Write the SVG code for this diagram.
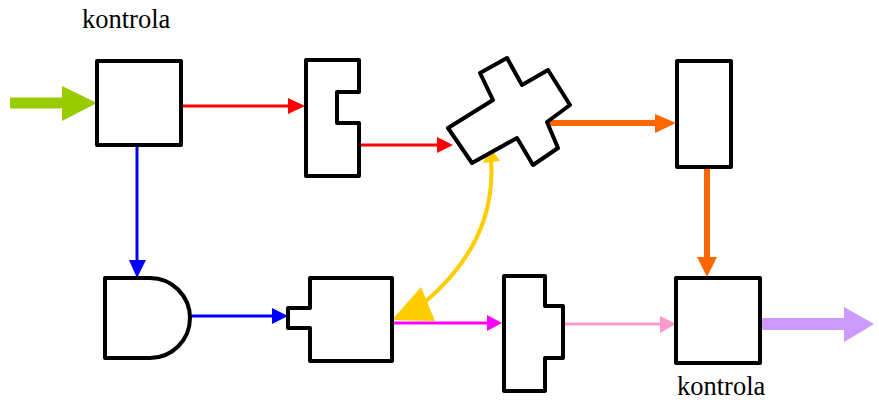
<svg xmlns="http://www.w3.org/2000/svg" width="879" height="404" viewBox="0 0 879 404">
<style>
.n{fill:#fff;stroke:#000;stroke-width:4;stroke-linejoin:round}
.t{font-size:26.5px;fill:#000}
</style>
<rect width="879" height="404" fill="#fff"/>
<g id="connectors">
  <g id="green"><rect x="10" y="97.5" width="54" height="11" fill="#99CC00"/><polygon points="62,86 97,103 62,121" fill="#99CC00"/></g>
  <g id="red1"><line x1="182" y1="106" x2="290" y2="106" stroke="#FF0000" stroke-width="3"/><polygon points="288,98 305,106 288,114" fill="#FF0000"/></g>
  <g id="red2"><line x1="360" y1="145" x2="440" y2="145" stroke="#FF0000" stroke-width="3"/><polygon points="437,137 453,145 437,153" fill="#FF0000"/></g>
  <g id="orange1"><line x1="548" y1="123" x2="657" y2="123" stroke="#FF6600" stroke-width="6"/><polygon points="655,114 676,123 655,133" fill="#FF6600"/></g>
  <g id="orange2"><line x1="707" y1="167" x2="707" y2="259" stroke="#FF6600" stroke-width="6"/><polygon points="697,257 717,257 707,277" fill="#FF6600"/></g>
  <g id="blue1"><line x1="137" y1="145" x2="137" y2="262" stroke="#0000FF" stroke-width="3"/><polygon points="129,260 146,260 137,278" fill="#0000FF"/></g>
  <g id="blue2"><line x1="190" y1="316" x2="274" y2="316" stroke="#0000FF" stroke-width="3"/><polygon points="272,308 288,316 272,324" fill="#0000FF"/></g>
  <g id="magenta"><line x1="393" y1="323" x2="489" y2="323" stroke="#FF00FF" stroke-width="3"/><polygon points="487,315 502,323 487,331" fill="#FF00FF"/></g>
  <g id="pink"><line x1="564" y1="324" x2="662" y2="324" stroke="#FF99CC" stroke-width="3"/><polygon points="660,316 676,324 660,333" fill="#FF99CC"/></g>
  <g id="purple"><rect x="760" y="318" width="86" height="12" fill="#CC99FF"/><polygon points="844,307 874,324 844,342" fill="#CC99FF"/></g>
  <g id="yellow"><path d="M491,160 C495,215 472,262 425,302" stroke="#FFCC00" stroke-width="4" fill="none"/><polygon points="490,147 483,163 500,161" fill="#FFCC00"/><polygon points="392,320 421,287 435,321" fill="#FFCC00"/></g>
</g>
<g id="node1"><rect class="n" x="97" y="61" width="84" height="84"/><text class="t" font-family="'Liberation Serif', 'DejaVu Serif', serif" x="82" y="28">kontrola</text></g>
<g id="node2"><path class="n" d="M306,60 H359 V92 H337 V123 H359 V176 H306 Z"/></g>
<g id="node3"><polygon class="n" points="480,73 507,58 522,85 548,70 570,105 547,122 558,148 533,165 517,138 472,163 448,128 493,100"/></g>
<g id="node4"><rect class="n" x="677" y="61" width="54" height="106"/></g>
<g id="node5"><path class="n" d="M105,278 H150 A40,40 0 0 1 150,358 H105 Z"/></g>
<g id="node6"><path class="n" d="M310,278 H392 V361 H310 V328 H288 V308 H310 Z"/></g>
<g id="node7"><path class="n" d="M504,276 H545 V306 H563 V358 H545 V391 H504 Z"/></g>
<g id="node8"><rect class="n" x="676" y="278" width="84" height="85"/><text class="t" font-family="'Liberation Serif', 'DejaVu Serif', serif" x="677" y="395">kontrola</text></g>
</svg>
